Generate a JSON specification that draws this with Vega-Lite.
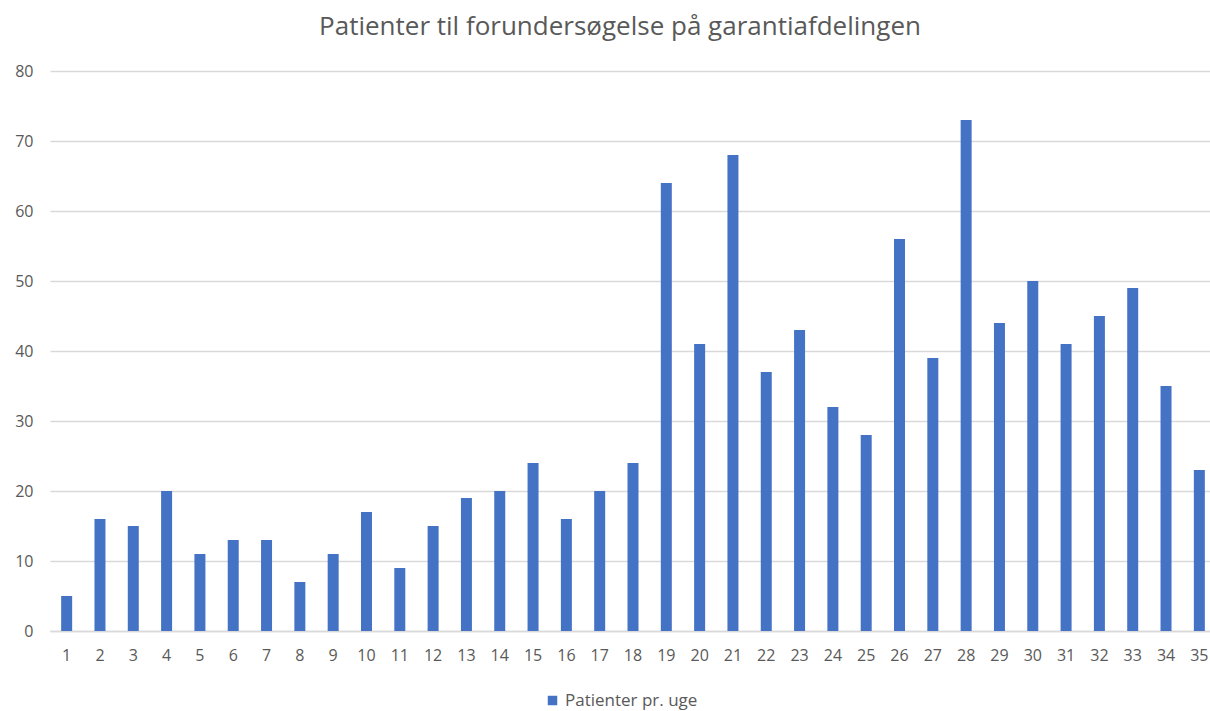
{
  "$schema": "https://vega.github.io/schema/vega-lite/v6.json",
  "autosize": {"type": "none"},
  "padding": {"left": 50, "top": 71, "right": 0, "bottom": 80},
  "width": 1166,
  "height": 560,
  "background": "white",
  "title": {
    "text": "Patienter til forundersøgelse  på garantiafdelingen",
    "font": "Open Sans",
    "fontSize": 26,
    "fontWeight": "normal",
    "color": "#595959",
    "anchor": "middle",
    "dx": -13,
    "offset": 23
  },
  "data": {
    "values": [
      {"uge": 1, "antal": 5}, {"uge": 2, "antal": 16}, {"uge": 3, "antal": 15},
      {"uge": 4, "antal": 20}, {"uge": 5, "antal": 11}, {"uge": 6, "antal": 13},
      {"uge": 7, "antal": 13}, {"uge": 8, "antal": 7}, {"uge": 9, "antal": 11},
      {"uge": 10, "antal": 17}, {"uge": 11, "antal": 9}, {"uge": 12, "antal": 15},
      {"uge": 13, "antal": 19}, {"uge": 14, "antal": 20}, {"uge": 15, "antal": 24},
      {"uge": 16, "antal": 16}, {"uge": 17, "antal": 20}, {"uge": 18, "antal": 24},
      {"uge": 19, "antal": 64}, {"uge": 20, "antal": 41}, {"uge": 21, "antal": 68},
      {"uge": 22, "antal": 37}, {"uge": 23, "antal": 43}, {"uge": 24, "antal": 32},
      {"uge": 25, "antal": 28}, {"uge": 26, "antal": 56}, {"uge": 27, "antal": 39},
      {"uge": 28, "antal": 73}, {"uge": 29, "antal": 44}, {"uge": 30, "antal": 50},
      {"uge": 31, "antal": 41}, {"uge": 32, "antal": 45}, {"uge": 33, "antal": 49},
      {"uge": 34, "antal": 35}, {"uge": 35, "antal": 23}
    ]
  },
  "transform": [{"calculate": "'Patienter  pr. uge'", "as": "serie"}],
  "mark": {"type": "bar"},
  "encoding": {
    "x": {
      "field": "uge",
      "type": "ordinal",
      "scale": {"paddingInner": 0.67, "paddingOuter": 0.335},
      "axis": {
        "title": null,
        "labelAngle": 0,
        "ticks": false,
        "domainColor": "#d9d9d9",
        "domainWidth": 1.5,
        "labelColor": "#595959",
        "labelFont": "Open Sans",
        "labelFontSize": 16,
        "labelPadding": 16,
        "labelOverlap": false
      }
    },
    "y": {
      "field": "antal",
      "type": "quantitative",
      "scale": {"domain": [0, 80]},
      "axis": {
        "title": null,
        "values": [0, 10, 20, 30, 40, 50, 60, 70, 80],
        "labelOverlap": false,
        "domain": false,
        "ticks": false,
        "gridColor": "#d9d9d9",
        "gridWidth": 1.5,
        "labelColor": "#595959",
        "labelFont": "Open Sans",
        "labelFontSize": 16,
        "labelPadding": 17
      }
    },
    "color": {
      "field": "serie",
      "type": "nominal",
      "scale": {"range": ["#4472c4"]},
      "legend": {
        "title": null,
        "orient": "none",
        "legendX": 494,
        "legendY": 621,
        "symbolType": "square",
        "symbolSize": 90,
        "symbolOpacity": 1,
        "labelColor": "#595959",
        "labelFont": "Open Sans",
        "labelFontSize": 17
      }
    }
  },
  "config": {"view": {"stroke": null}}
}
